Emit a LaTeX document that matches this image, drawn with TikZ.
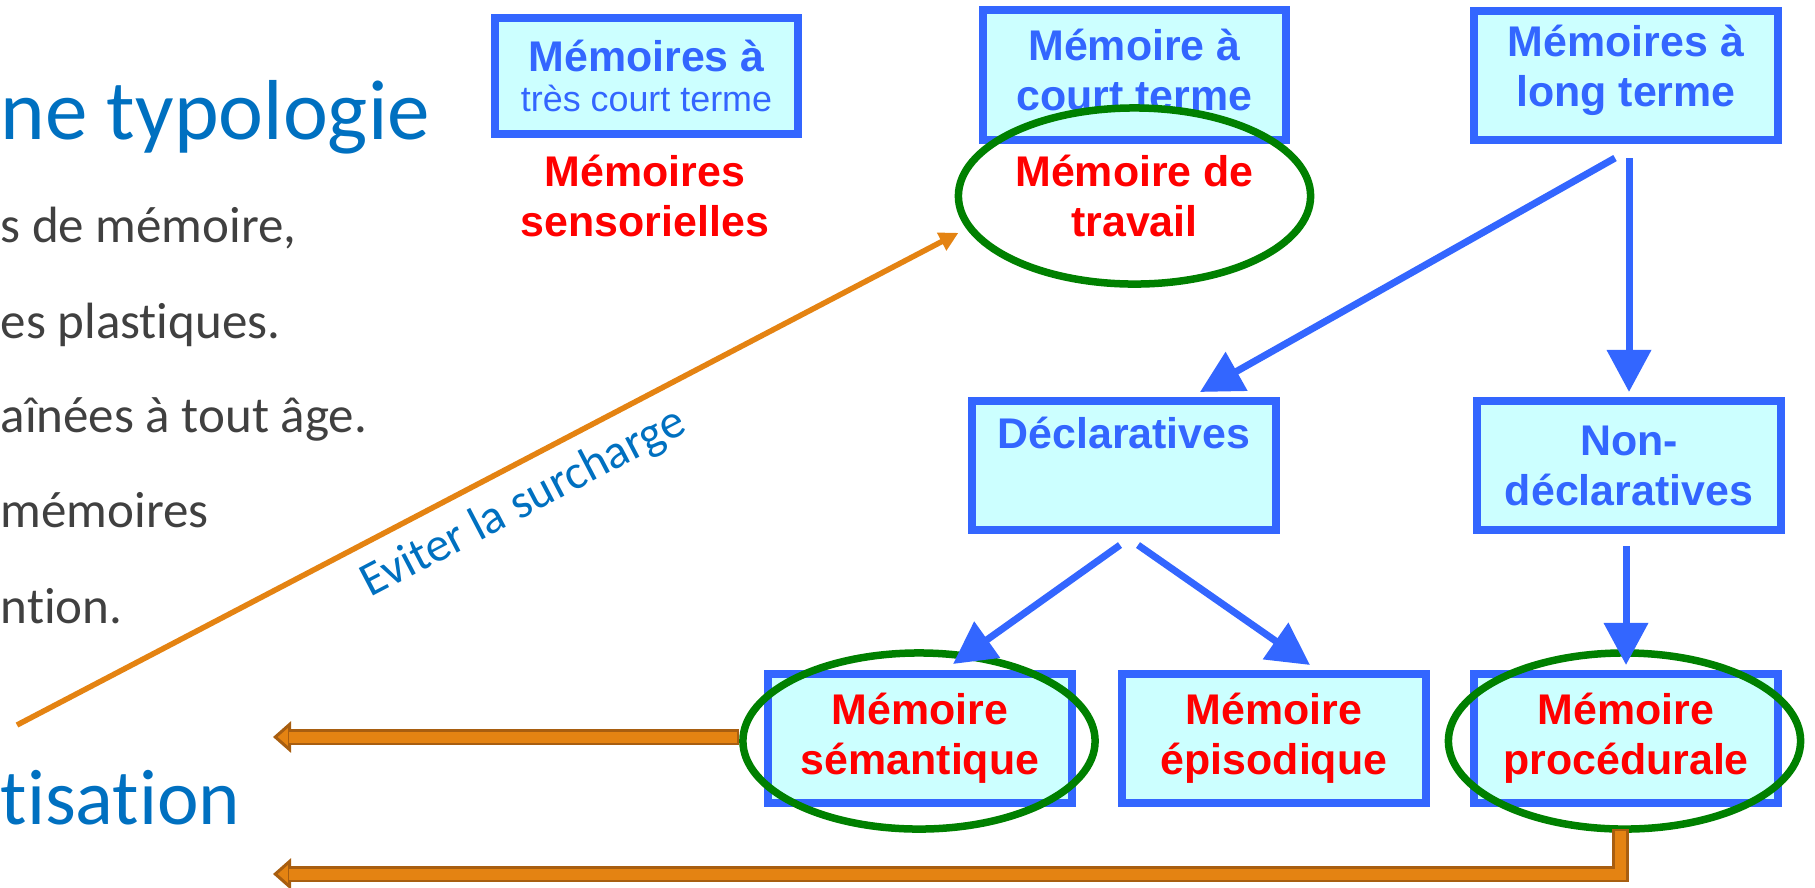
\documentclass[tikz,border=0pt]{standalone}
\usepackage{fontspec}
\setmainfont{Carlito}[Ligatures=NoCommon]
\newfontfamily\boxfont{Liberation Sans}
\usepackage{xcolor}
\usepackage{tikz}
\usetikzlibrary{arrows.meta,positioning,calc,shapes.geometric}
\definecolor{memblue}{HTML}{3366FF}
\definecolor{memfill}{HTML}{CCFFFF}
\definecolor{memred}{HTML}{FF0000}
\definecolor{ringgreen}{HTML}{008000}
\definecolor{titleblue}{HTML}{0070C0}
\definecolor{bodygrey}{HTML}{404040}
\definecolor{amberline}{HTML}{E48312}
\definecolor{amberdark}{HTML}{A85E10}
\newcommand{\boxsz}{\fontsize{12.2}{14.2}\selectfont}
\newcommand{\lift}[1]{\rule[-#1]{0pt}{0pt}}
\tikzset{
  memobox/.style={rectangle, draw=memblue, fill=memfill, line width=0.08cm,
              minimum width=3.03cm, minimum height=1.29cm, inner sep=0pt,
              align=center, text=memblue, font=\boxfont\bfseries\boxsz},
  memolbl/.style={align=center, text=memred, font=\boxfont\bfseries\boxsz},
  ring/.style={ellipse, draw=ringgreen, line width=0.075cm, inner sep=0pt,
              minimum width=3.52cm, minimum height=1.76cm},
  heading/.style={anchor=base west, inner sep=0pt, text=titleblue},
  bodytxt/.style={anchor=base west, inner sep=0pt, text=bodygrey,
              font=\fontsize{14.5}{17}\selectfont},
  flow/.style={-{Triangle[length=0.42cm, width=0.43cm]}, draw=memblue, line width=0.07cm},
  warnflow/.style={-{Triangle[length=0.19cm, width=0.19cm]}, draw=amberline, line width=0.055cm},
  blockflow/.style={-{Triangle[length=0.18cm, width=0.31cm, line width=0.03cm, fill=amberline]},
              draw=amberdark, line width=0.165cm},
  blockfill/.style={draw=amberline, line width=0.11cm, shorten >=0.16cm, shorten <=0.025cm},
}
\begin{document}
\begin{tikzpicture}[x=0.01cm, y=-0.01cm]
\useasboundingbox (0,0) rectangle (1815,887);

% left side of the slide
\node[heading, font=\fontsize{24.2}{29}\selectfont] (ttl1) at (0,139) {ne typologie};
\node[bodytxt] (ln1) at (0,242) {s de mémoire,};
\node[bodytxt] (ln2) at (0,338) {es plastiques.};
\node[bodytxt] (ln3) at (0,432) {aînées à tout âge.};
\node[bodytxt] (ln4) at (0,527) {mémoires};
\node[bodytxt] (ln5) at (0,623) {ntion.};
\node[heading, font=\fontsize{22.4}{27}\selectfont] (ttl2) at (0,824) {tisation};

% memory boxes
\node[memobox, minimum height=1.16cm] (vstm) at (646.5,76)
  {Mémoires à\\[-2.6pt]{\mdseries\fontsize{10.2}{12.5}\selectfont très court terme}};
\node[memobox] (stm) at (1134.5,75) {Mémoire à\\court terme\lift{0.1cm}};
\node[memobox] (ltm) at (1626,75.5) {Mémoires à\\long terme\lift{0.19cm}};
\node[memobox] (decl) at (1124,465.5) {Déclaratives\\\strut};
\node[memobox] (nondecl) at (1629,465.5) {Non-\\déclaratives};
\node[memobox, text=memred] (sem) at (920,738.5) {Mémoire\\sémantique};
\node[memobox, text=memred] (epi) at (1274,738.5) {Mémoire\\épisodique};
\node[memobox, text=memred] (proc) at (1626,738.5) {Mémoire\\procédurale};
\node[memolbl] (sens) at (645,196) {Mémoires\\sensorielles};

% green rings
\node[ring, memolbl] (wm) at (1134.5,196) {Mémoire de\\travail};
\node[ring] (semE) at (919,741) {};
\node[ring] (procE) at (1624.5,741) {};

% orange arrows
\coordinate (warnStart) at (17,725);
\coordinate (semEnd) at (273,737);
\coordinate (procEnd) at (273,874);
\draw[warnflow, shorten >=0.09cm] (warnStart) -- (wm.191)
  node[pos=0.515, sloped, below, inner sep=0.15cm, text=titleblue,
       font=\fontsize{13.7}{16}\selectfont] (warnLbl) {Eviter la surcharge};
\draw[blockflow] (semE.west |- semEnd) -- (semEnd);
\draw[blockfill] (semE.west |- semEnd) -- (semEnd);
\draw[blockflow] ($(procE.south)+(-4,-4)$) |- (procEnd);
\draw[blockfill] ($(procE.south)+(-4,-4)$) |- (procEnd);

% blue arrows
\draw[flow] ($(ltm.south)+(-11,14)$) -- ($(decl.north)+(76,-5)$);
\draw[flow] ($(ltm.south)+(3,14)$) -- ($(nondecl.north)+(0,-5)$);
\draw[flow] ($(decl.south)+(-4,11)$) -- ($(sem.north)+(33,-6)$);
\draw[flow] ($(decl.south)+(14,11)$) -- ($(epi.north)+(36,-5)$);
\draw[flow] ($(nondecl.south)+(-3,12)$) -- ($(proc.north)+(0,-5)$);
\end{tikzpicture}
\end{document}
